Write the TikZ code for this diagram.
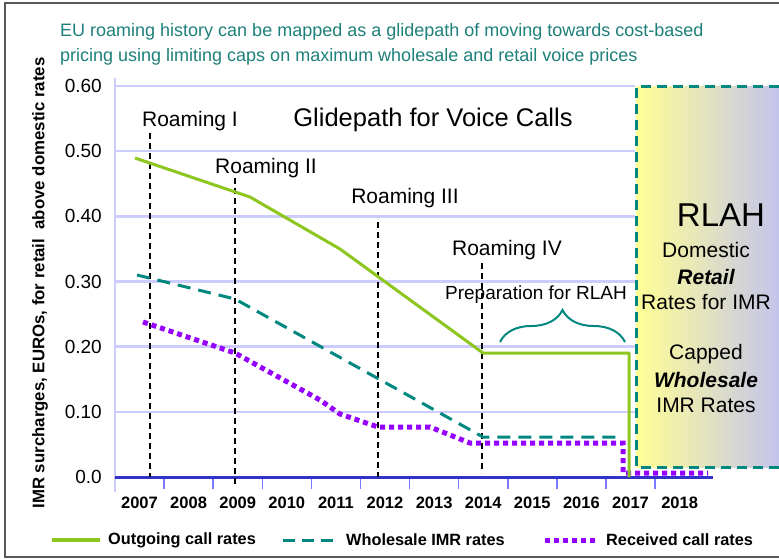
\documentclass[tikz,border=0pt]{standalone}
\usepackage{fontspec}
\setmainfont{Liberation Sans}
\usetikzlibrary{calc,positioning,decorations.pathreplacing}

\definecolor{eugreen}{RGB}{140,198,30}
\definecolor{euteal}{RGB}{0,136,128}
\definecolor{eupurple}{RGB}{150,0,255}
\definecolor{gridlav}{RGB}{204,204,255}
\definecolor{axisblue}{RGB}{50,50,200}
\definecolor{headteal}{RGB}{30,128,122}
\definecolor{rlahyellow}{RGB}{255,255,150}
\definecolor{rlahmid}{RGB}{236,236,200}
\definecolor{rlahlav}{RGB}{196,196,236}

\newcommand{\fsz}[1]{\fontsize{#1}{#1}\selectfont}

\begin{document}
\begin{tikzpicture}[x=1pt, y=-1pt,
  gridln/.style={gridlav, line width=2.5pt},
  phaseln/.style={black, line width=2pt, dash pattern=on 6pt off 4pt},
  outgoing/.style={eugreen, line width=3pt, line join=round},
  wholesale/.style={euteal, line width=3pt, dash pattern=on 13pt off 8pt},
  received/.style={eupurple, line width=5pt, dash pattern=on 5pt off 4pt},
  ticklbl/.style={font=\fsz{19}, inner sep=0pt, anchor=east},
  yearlbl/.style={font=\bfseries\fsz{16.5}, inner sep=0pt},
  phaselbl/.style={font=\fsz{21}, inner sep=0pt},
  rlahtxt/.style={font=\fsz{21}, inner sep=0pt},
  legtxt/.style={font=\bfseries\fsz{16.3}, inner sep=0pt, anchor=west},
  headtxt/.style={font=\fsz{18}, text=headteal, inner sep=0pt, anchor=base west},
  node distance=8pt
]
\useasboundingbox (0,0) rectangle (779,559);
\fill[white] (0,0) rectangle (779,559);
\draw[gray!70!black, line width=1.5pt] (779,3) -- (5,3) -- (5,557) -- (779,557);

% heading
\node[headtxt] (head1) at (60,37) {EU roaming history can be mapped as a glidepath of moving towards cost-based};
\node[headtxt] (head2) at (60,62) {pricing using limiting caps on maximum wholesale and retail voice prices};

% RLAH area
\shade[left color=rlahyellow, middle color=rlahmid, right color=rlahlav] (636,87) rectangle (779,467);
\draw[euteal, line width=3pt, dash pattern=on 10pt off 6pt] (779,87) -- (636,87) -- (636,467) -- (779,467);

% grid and axes
\foreach \v in {1,...,6}
  \draw[gridln] (115,{477-65.17*\v}) -- (635,{477-65.17*\v});
\draw[gridln] (115,78) -- (115,492);
\foreach \i in {1,...,11}
  \draw[gridlav!60!blue, line width=1.5pt] ({115+49.1*\i},477) -- ++(0,12);
\draw[axisblue, line width=3pt] (115,477) -- (713,477);

\foreach \v/\t in {0/0.0,1/0.10,2/0.20,3/0.30,4/0.40,5/0.50,6/0.60}
  \node[ticklbl] (tick\v) at (102,{477-65.17*\v}) {\t};
\foreach \yr [count=\i from 0] in {2007,...,2018}
  \node[yearlbl] (yr\yr) at ({139.5+49.1*\i},503) {\yr};

\node[rotate=90, font=\bfseries\fsz{16.8}, inner sep=0pt] (ylab) at (40,283)
  {IMR surcharges, EUROs, for retail\ \ above domestic rates};

% regulation phases
\node[font=\fsz{25.5}, inner sep=0pt] (title) at (433,120) {Glidepath for Voice Calls};
\node[phaselbl] (ram1) at (190,121) {Roaming I};
\node[phaselbl] (ram2) at (266,168) {Roaming II};
\node[phaselbl] (ram3) at (405,198) {Roaming III};
\node[phaselbl] (ram4) at (507,250) {Roaming IV};
\node[font=\fsz{19}, inner sep=0pt] (prep) at (536,295) {Preparation for RLAH};

\draw[phaseln] (150,133) -- (150,477);
\draw[phaseln] (235,178) -- (235,487);
\draw[phaseln] (378,222) -- (378,477);
\draw[phaseln] (482,263) -- (482,473);

\coordinate (brl) at (500,342);
\coordinate (brr) at (625,342);
\draw[euteal, line width=2pt, decorate, decoration={brace, amplitude=32pt}] (brl) -- (brr);

% rates
\draw[wholesale] (137,275) -- (235,299) -- (483,437) -- (622,437);
\draw[received] (143,322) -- (235,353) -- (320,400) -- (340,414) -- (378,427) -- (430,427)
  -- (470,443) -- (623,443) -- (623,473) -- (708,473);
\draw[outgoing] (135,158) -- (250,197) -- (340,249) -- (483,353) -- (629,353) -- (629,477);

% RLAH text
\node[font=\fsz{33}, inner sep=0pt] (rlah) at (721,215) {RLAH};
\node[rlahtxt] (dom) at (706,250) {Domestic};
\node[rlahtxt, font=\fsz{21}\bfseries\itshape] (ret) at (706,277) {Retail};
\node[rlahtxt] (rfi) at (706,302) {Rates for IMR};
\node[rlahtxt] (cap) at (706,354) {Capped};
\node[rlahtxt, font=\fsz{21}\bfseries\itshape] (whs) at (706,380) {Wholesale};
\node[rlahtxt] (imr) at (706,405) {IMR Rates};

% legend
\coordinate (lg1a) at (52,540);  \coordinate (lg1b) at (100,540);
\coordinate (lg2a) at (283,540); \coordinate (lg2b) at (340,540);
\coordinate (lg3a) at (545,540); \coordinate (lg3b) at (598,540);
\draw[outgoing, line width=4pt] (lg1a) -- (lg1b);
\draw[wholesale, dash pattern=on 12pt off 7pt] (lg2a) -- (lg2b);
\draw[received] (lg3a) -- (lg3b);
\node[legtxt, right=of lg1b] (leg1) {Outgoing call rates};
\node[legtxt, right=6pt of lg2b] (leg2) {Wholesale IMR rates};
\node[legtxt, right=of lg3b] (leg3) {Received call rates};
\end{tikzpicture}
\end{document}
